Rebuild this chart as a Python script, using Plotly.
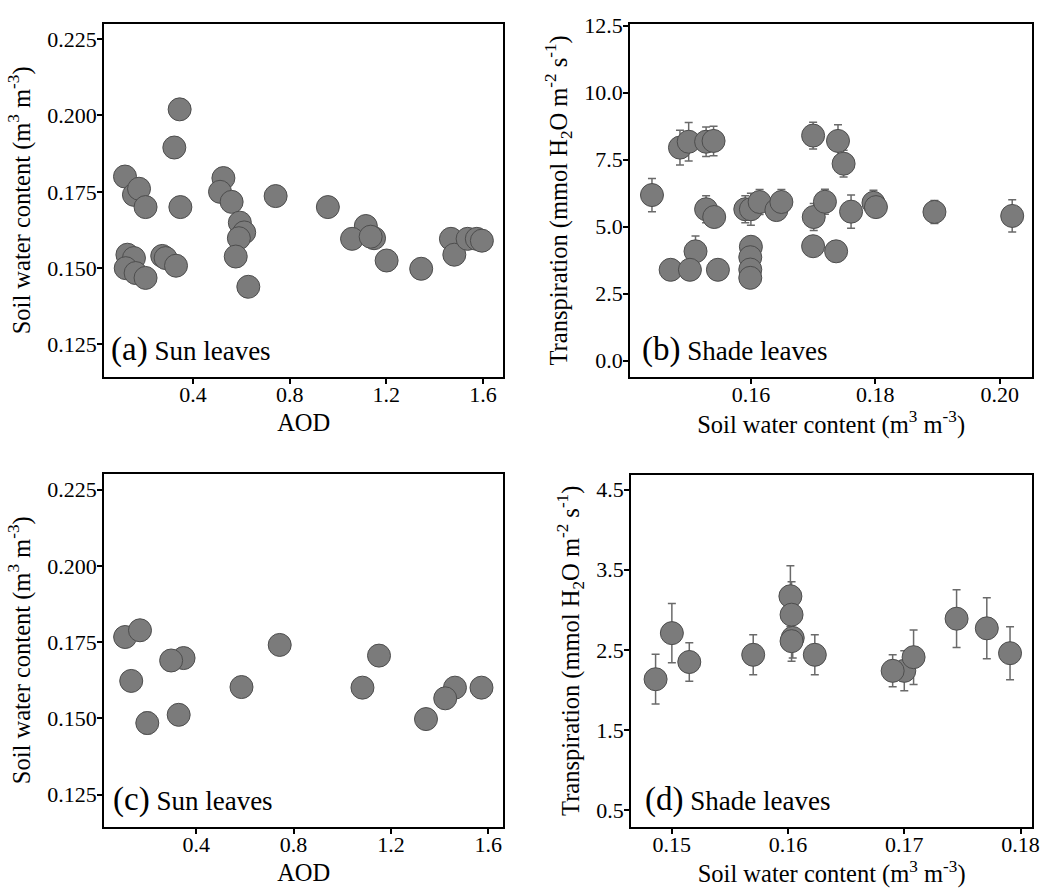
import plotly.graph_objects as go

# ---- data ----
a_aod = [0.119, 0.156, 0.177, 0.204, 0.345, 0.323, 0.348, 0.129, 0.156, 0.122, 0.163, 0.204,
         0.273, 0.287, 0.330, 0.526, 0.512, 0.560, 0.594, 0.612, 0.590, 0.577, 0.629, 0.742,
         0.958, 1.115, 1.058, 1.149, 1.135, 1.201, 1.344, 1.467, 1.481, 1.536, 1.574, 1.595]
a_swc = [0.180, 0.174, 0.176, 0.170, 0.202, 0.1895, 0.170, 0.1544, 0.1533, 0.150, 0.1484, 0.1468,
         0.154, 0.1533, 0.1508, 0.1795, 0.175, 0.1717, 0.1649, 0.1617, 0.1598, 0.1538, 0.1439, 0.1736,
         0.170, 0.1638, 0.1596, 0.1598, 0.1603, 0.1525, 0.1498, 0.1596, 0.1544, 0.1596, 0.1596, 0.159]

b_swc = [0.1441, 0.1486, 0.1500, 0.1528, 0.1540, 0.1528, 0.1541, 0.1511, 0.1471, 0.1502, 0.1547,
         0.1591, 0.1600, 0.1614, 0.1641, 0.1649, 0.1600, 0.1599, 0.1599, 0.1599, 0.1700, 0.1740,
         0.1749, 0.1701, 0.1719, 0.1761, 0.1797, 0.1801, 0.1700, 0.1737, 0.1895, 0.2020]
b_tr = [6.18, 7.95, 8.17, 8.17, 8.20, 5.65, 5.36, 4.08, 3.39, 3.39, 3.39,
        5.65, 5.65, 5.92, 5.62, 5.92, 4.25, 3.86, 3.40, 3.09, 8.40, 8.20,
        7.35, 5.36, 5.93, 5.56, 5.89, 5.73, 4.27, 4.08, 5.55, 5.40]
b_err = [0.62, 0.65, 0.72, 0.55, 0.55, 0.50, 0.30, 0.57, 0.20, 0.20, 0.20,
         0.50, 0.60, 0.47, 0.35, 0.47, 0.20, 0.20, 0.20, 0.20, 0.50, 0.60,
         0.50, 0.50, 0.47, 0.62, 0.47, 0.30, 0.20, 0.20, 0.43, 0.60]

c_aod = [0.108, 0.169, 0.133, 0.199, 0.348, 0.297, 0.328, 0.586, 0.743, 1.083, 1.151, 1.344,
         1.463, 1.423, 1.572]
c_swc = [0.1767, 0.1789, 0.1623, 0.1485, 0.1698, 0.1690, 0.1512, 0.1603, 0.1741, 0.1601, 0.1706,
         0.1498, 0.1601, 0.1566, 0.1601]
c_err = [0, 0, 0, 0.0035, 0, 0, 0, 0, 0, 0, 0, 0, 0, 0, 0]

d_swc = [0.1486, 0.1500, 0.1515, 0.1570, 0.1602, 0.1603, 0.1604, 0.1603, 0.1623, 0.1700,
         0.1690, 0.1708, 0.1745, 0.1771, 0.1791]
d_tr = [2.135, 2.71, 2.35, 2.44, 3.17, 2.94, 2.65, 2.61, 2.44, 2.24, 2.24, 2.41, 2.89, 2.77, 2.46]
d_err = [0.31, 0.37, 0.24, 0.25, 0.38, 0.41, 0.25, 0.25, 0.25, 0.25, 0.20, 0.34, 0.36, 0.38, 0.33]

swc_ticks = [0.125, 0.150, 0.175, 0.200, 0.225]
aod_ticks = [0.4, 0.8, 1.2, 1.6]
b_yticks = [0.0, 2.5, 5.0, 7.5, 10.0, 12.5]
b_xticks = [0.16, 0.18, 0.20]
d_yticks = [0.5, 1.5, 2.5, 3.5, 4.5]
d_xticks = [0.15, 0.16, 0.17, 0.18]

SWC_TITLE = "Soil water content (m<sup>3</sup> m<sup>-3</sup>)"
TR_TITLE = "Transpiration (mmol H<sub>2</sub>O m<sup>-2</sup> s<sup>-1</sup>)"

FONT = "Liberation Serif, Times New Roman, serif"
MCOL = "#7b7b7b"
ECOL = "#6a6a6a"

fig = go.Figure()

marker = dict(size=23, color=MCOL, line=dict(color="#4d4d4d", width=1))
errstyle = dict(type="data", symmetric=True, color=ECOL, thickness=1.5, width=4)

fig.add_trace(go.Scatter(x=a_aod, y=a_swc, mode="markers", marker=marker,
                         xaxis="x", yaxis="y", showlegend=False))
fig.add_trace(go.Scatter(x=b_swc, y=b_tr, mode="markers", marker=marker,
                         error_y=dict(array=b_err, **errstyle),
                         xaxis="x2", yaxis="y2", showlegend=False))
fig.add_trace(go.Scatter(x=c_aod, y=c_swc, mode="markers", marker=marker,
                         error_y=dict(array=c_err, **errstyle),
                         xaxis="x3", yaxis="y3", showlegend=False))
fig.add_trace(go.Scatter(x=d_swc, y=d_tr, mode="markers", marker=marker,
                         error_y=dict(array=d_err, **errstyle),
                         xaxis="x4", yaxis="y4", showlegend=False))

def ax(domain, rng, ticks, fmt, title, anchor, standoff, lblstand):
    return dict(domain=domain, range=rng, tickvals=ticks,
                ticktext=[fmt.format(t) for t in ticks],
                showline=True, mirror=True, linecolor="black", linewidth=2,
                ticks="outside", ticklen=5, tickwidth=1.5, tickcolor="black",
                ticklabelstandoff=lblstand,
                showgrid=False, zeroline=False, anchor=anchor,
                tickfont=dict(family=FONT, size=22, color="black"),
                title=dict(text=title, standoff=standoff,
                           font=dict(family=FONT, size=24.5, color="black")))

W, H = 1056, 896
def xd(l, r):
    return [l / W, r / W]
def yd(t, b):
    return [(H - b) / H, (H - t) / H]

XS, YS = 8, 10      # title standoffs
XL, YL = -8, -4     # tick label standoffs

fig.update_layout(
    width=W, height=H, margin=dict(l=0, r=0, t=0, b=0),
    paper_bgcolor="white", plot_bgcolor="white",
    font=dict(family=FONT, color="black"),
    xaxis=ax(xd(105, 507), [0.033, 1.683], aod_ticks, "{:.1f}", "AOD", "y", XS, XL),
    yaxis=ax(yd(14, 371), [0.1144, 0.230], swc_ticks, "{:.3f}", SWC_TITLE, "x", YS, YL),
    xaxis2=ax(xd(635, 1040), [0.1406, 0.2052], b_xticks, "{:.2f}", SWC_TITLE, "y2", XS, XL),
    yaxis2=ax(yd(14, 371), [-0.606, 12.57], b_yticks, "{:.1f}", TR_TITLE, "x2", YS, YL),
    xaxis3=ax(xd(105, 507), [0.022, 1.661], aod_ticks, "{:.1f}", "AOD", "y3", XS, XL),
    yaxis3=ax(yd(469, 826), [0.1145, 0.2302], swc_ticks, "{:.3f}", SWC_TITLE, "x3", YS, YL),
    xaxis4=ax(xd(636, 1040), [0.1465, 0.181], d_xticks, "{:.2f}", SWC_TITLE, "y4", XS, XL),
    yaxis4=ax(yd(470, 826), [0.295, 4.685], d_yticks, "{:.1f}", TR_TITLE, "x4", YS, YL),
)

labels = [("a", "Sun leaves", "x", "y", 0.012),
          ("b", "Shade leaves", "x2", "y2", 0.025),
          ("c", "Sun leaves", "x3", "y3", 0.018),
          ("d", "Shade leaves", "x4", "y4", 0.030)]
for letter, txt, xa, ya, xoff in labels:
    fig.add_annotation(
        xref=xa + " domain", yref=ya + " domain", x=xoff, y=0.02,
        xanchor="left", yanchor="bottom", showarrow=False,
        text="<span style='font-size:33px'>(" + letter + ")</span> " + txt,
        font=dict(family=FONT, size=27, color="black"))

fig.write_html("out.html")
